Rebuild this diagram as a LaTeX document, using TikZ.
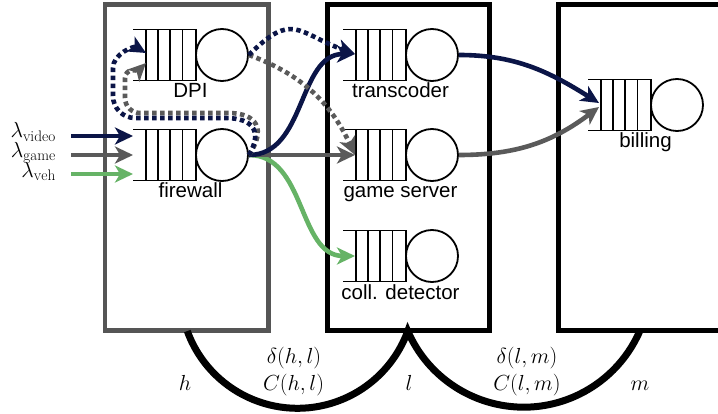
\RequirePackage{fix-cm}
\documentclass[tikz,border=0pt]{standalone}
\usepackage{fontspec}
\setsansfont{Liberation Sans}
\usetikzlibrary{arrows.meta}
\definecolor{navy}{HTML}{0B1547}
\definecolor{mgray}{HTML}{5A5A5A}
\definecolor{mgreen}{HTML}{66B366}
\definecolor{boxgray}{HTML}{555555}
\newcommand{\myqueue}[4]{%
  \begin{scope}[shift={(#2,#3)}]
    \draw[qline] (0,25.5) -- (63,25.5) -- (63,-25.5) -- (0,-25.5);
    \foreach \qx in {13,25,37,49.5} {\draw[qline] (\qx,25.5) -- (\qx,-25.5);}
  \end{scope}
  \node[qline, draw, circle, minimum size=52pt, inner sep=0] (#1-s) at (#2+89,#3) {};
  \node[lbl] (#1-l) at (#2+57.5,#3-43) {#4};
}
\begin{document}
\begin{tikzpicture}[x=1pt,y=1pt,
  qline/.style={line width=1.8pt, black},
  lbl/.style={font=\sffamily\fontsize{20.5}{24}\selectfont, anchor=base, inner sep=0},
  mlbl/.style={font=\fontsize{21.8}{24}\selectfont, inner sep=0, anchor=base},
  arr/.style={line width=4.6pt, -{Stealth[length=18pt,width=17pt,inset=5pt]}},
  dotl/.style={arr, dash pattern=on 4.5pt off 3.5pt},
  boxst/.style={draw, line width=4.5pt, minimum height=326pt, inner sep=0, outer sep=0},
  arcst/.style={line width=7pt, miter limit=10}]
\useasboundingbox (0,0) rectangle (718,413);
\clip (0,0) rectangle (718,413);
% hosts
\node[boxst, draw=boxgray, minimum width=163.5pt] (hbox) at (186.75,245.5) {};
\node[boxst, draw=black, line width=5pt, minimum width=161.5pt] (lbox) at (408.25,245.5) {};
\node[boxst, draw=black, line width=5pt, minimum width=201.5pt] (mbox) at (659.25,245.5) {};
% queues
\myqueue{dpi}{133}{358}{DPI}
\myqueue{fw}{133}{258}{firewall}
\myqueue{tc}{343}{358}{transcoder}
\myqueue{gs}{343}{258}{game server}
\myqueue{cd}{343}{157}{coll. detector}
\myqueue{bl}{588}{308}{billing}
% coordinates
\coordinate (vin) at (71,277);
\coordinate (gin) at (71,258);
\coordinate (hin) at (71,239);
\coordinate (fw-v) at (133,277);
\coordinate (fw-g) at (133,258);
\coordinate (fw-h) at (133,239);
\coordinate (dpi-a) at (146,360);
\coordinate (dpi-b) at (146,350);
\coordinate (tc-in) at (355,359);
\coordinate (gs-in) at (355,258);
\coordinate (cd-in) at (355,157);
\coordinate (bl-a) at (599,310);
\coordinate (bl-b) at (599,306);
% input rates
\node[mlbl, anchor=base east] (lv) at (56,275) {$\lambda_{\mathrm{video}}$};
\node[mlbl, anchor=base east] (lg) at (56,255.5) {$\lambda_{\mathrm{game}}$};
\node[mlbl, anchor=base east] (lh) at (56,235.5) {$\lambda_{\mathrm{veh}}$};
\draw[arr, navy] (vin) -- (fw-v);
\draw[arr, mgray] (gin) -- (fw-g);
\draw[arr, mgreen] (hin) -- (fw-h);
% flows
\draw[arr, mgreen] (fw-s.east) to[out=0,in=180] (cd-in);
\draw[arr, mgray] (fw-s.east) -- (gs-in);
\draw[arr, navy] (fw-s.east) to[out=0,in=180] (tc-in);
\draw[arr, mgray] (gs-s.east) to[out=0,in=217] (bl-b);
\draw[arr, navy] (tc-s.east) to[out=0,in=148] (bl-a);
\draw[dotl, mgray] (dpi-s.east) to[out=-20,in=115] (gs-in);
\draw[dotl, navy] (dpi-s.east) to[out=45,in=160,looseness=1.5] (tc-in);
\draw[dotl, mgray] (fw-s.east) .. controls (266,283) and (258,300) .. (228,300) -- (140,300) to[out=180,in=-90] (125,315) -- (125,335) to[out=90,in=225] (dpi-b);
\draw[dotl, navy] (fw-s.east) .. controls (262,280) and (255,295) .. (225,295) -- (135,295) to[out=180,in=-90] (113,317) -- (113,345) to[out=90,in=150] (dpi-a);
% links
\coordinate (hl-a) at (187.3,81.9);
\draw[arcst] (hl-a) arc[start angle=200,end angle=340,radius=117.3] arc[start angle=203.5,end angle=336.5,radius=126.5];
\node[mlbl] (nh) at (185,23) {$h$};
\node[mlbl] (dhl) at (294,50) {$\delta(h,l)$};
\node[mlbl] (chl) at (293.5,23) {$C(h,l)$};
\node[mlbl] (nl) at (409,23) {$l$};
\node[mlbl] (dlm) at (527,50) {$\delta(l,m)$};
\node[mlbl] (clm) at (527,23) {$C(l,m)$};
\node[mlbl] (nm) at (640,23) {$m$};
\end{tikzpicture}
\end{document}
